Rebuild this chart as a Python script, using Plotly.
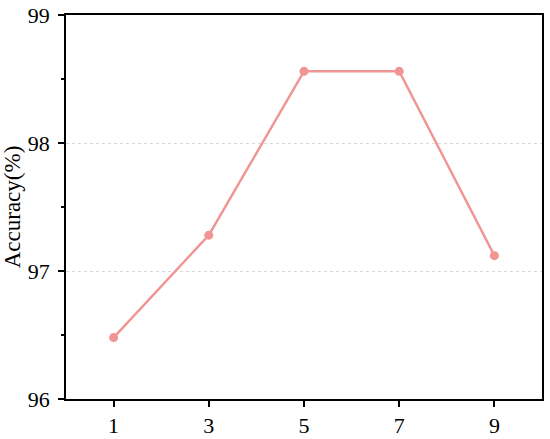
import plotly.graph_objects as go

# ── Data ─────────────────────────────────────────────
window_sizes = [1, 3, 5, 7, 9]
accuracy = [96.48, 97.28, 98.56, 98.56, 97.12]
x_ticks = [1, 3, 5, 7, 9]
y_ticks = [96, 97, 98, 99]

line_color = "#F09494"
font_family = "Liberation Serif, Times New Roman, serif"

fig = go.Figure()
fig.add_trace(go.Scatter(
    x=window_sizes, y=accuracy,
    mode="lines+markers",
    line=dict(color=line_color, width=2.4),
    marker=dict(color=line_color, size=9),
    showlegend=False
))

# ── Style ────────────────────────────────────────────
fig.update_layout(
    width=550, height=439,
    paper_bgcolor="white",
    plot_bgcolor="white",
    font=dict(family=font_family, size=22, color="black"),
    margin=dict(t=15, l=66, r=8, b=40, autoexpand=False),
)
fig.update_xaxes(
    range=[0, 10],
    tickvals=x_ticks,
    ticks="outside", ticklen=6, tickwidth=1.5, tickcolor="black",
    showline=True, linecolor="black", linewidth=1.5, mirror=True,
    showgrid=False, zeroline=False, automargin=False,
    tickfont=dict(size=22),
)
fig.update_yaxes(
    range=[96, 99],
    tickvals=y_ticks,
    ticks="outside", ticklen=6, tickwidth=1.5, tickcolor="black",
    minor=dict(dtick=0.5, ticks="outside", ticklen=3, tickwidth=1.5,
               tickcolor="black", showgrid=False),
    showline=True, linecolor="black", linewidth=1.5, mirror=True,
    showgrid=True, gridcolor="#D9D9D9", griddash="dot", gridwidth=1,
    zeroline=False, automargin=False,
    tickfont=dict(size=22),
    ticklabelstandoff=4,
    title=dict(text="Accuracy(%)", font=dict(size=23), standoff=1),
)

# drop the default body margin so the figure sits at the page corner
fig.write_html(
    "out.html",
    config={"displayModeBar": False},
    post_script="document.body.style.margin='0';",
)
